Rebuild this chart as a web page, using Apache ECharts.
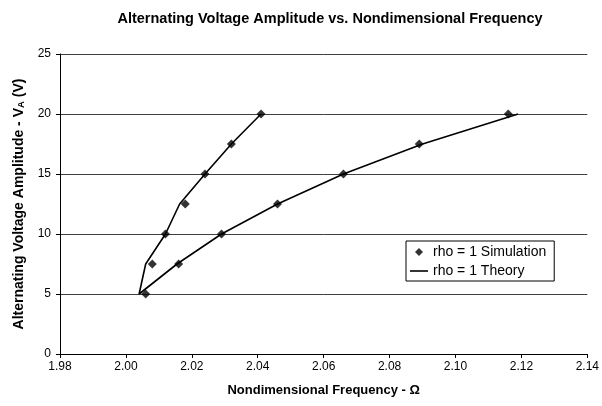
<!DOCTYPE html>
<html><head><meta charset="utf-8">
<script src="https://cdn.jsdelivr.net/npm/echarts@6/dist/echarts.min.js"></script>
<style>html,body{margin:0;padding:0;background:#fff}#c{width:602px;height:406px}</style>
</head><body><div id="c"></div>
<script>
// Simulation points [Omega, V_A]
var simOmega = [2.006, 2.008, 2.012, 2.018, 2.024, 2.032, 2.041, 2.016, 2.029, 2.046, 2.066, 2.089, 2.116];
var simVolt  = [5, 7.5, 10, 12.5, 15, 17.5, 20, 7.5, 10, 12.5, 15, 17.5, 20];
// Theory curve (one continuous line: upper-left branch down, then right branch up)
var theoryOmega = [2.041, 2.032, 2.024, 2.0163, 2.012, 2.006, 2.004, 2.0155, 2.029, 2.046, 2.066, 2.090, 2.119];
var theoryVolt  = [20, 17.5, 15, 12.5, 10, 7.5, 5, 7.5, 10, 12.5, 15, 17.5, 20];
var xTicks = [1.98, 2.00, 2.02, 2.04, 2.06, 2.08, 2.10, 2.12, 2.14];
var yTicks = [0, 5, 10, 15, 20, 25];
var seriesNames = ['rho = 1 Simulation', 'rho = 1 Theory'];

var simData = simOmega.map(function(x,i){return [x, simVolt[i]];});
var theoryData = theoryOmega.map(function(x,i){return [x, theoryVolt[i]];});
var F = 'Arial, "Liberation Sans", sans-serif';

var chart = echarts.init(document.getElementById('c'), null, {renderer:'canvas'});
chart.setOption({
  animation:false,
  backgroundColor:'#fff',
  title:{text:'Alternating Voltage Amplitude vs. Nondimensional Frequency', left:325, top:6, textAlign:'center',
    textStyle:{fontFamily:F, fontSize:14.5, fontWeight:'bold', color:'#000'}},
  grid:{left:60, right:13, top:54, bottom:52, containLabel:false},
  legend:{orient:'vertical', left:406, top:241, padding:[4,8,3,4], itemGap:5,
    backgroundColor:'#fff', borderColor:'#000', borderWidth:1,
    itemWidth:18, itemHeight:8, textStyle:{fontFamily:F, fontSize:14, color:'#000'},
    data:[
      {name:seriesNames[0], icon:'path://M0,0M18,8M9,0L13,4L9,8L5,4Z', itemStyle:{color:'#000'}},
      {name:seriesNames[1], icon:'path://M0,0M18,8M0,3.2L18,3.2L18,4.8L0,4.8Z', itemStyle:{color:'#000'}}
    ]},
  xAxis:{type:'value', min:xTicks[0], max:xTicks[xTicks.length-1], interval:0.02,
    name:'Nondimensional Frequency - Ω', nameLocation:'middle', nameGap:30,
    nameTextStyle:{fontFamily:F, fontSize:13, fontWeight:'bold', color:'#000'},
    axisLine:{show:true, lineStyle:{color:'#000', width:1}},
    axisTick:{show:true, length:4, lineStyle:{color:'#000'}},
    axisLabel:{fontFamily:F, fontSize:12, color:'#000', margin:7, formatter:function(v){return v.toFixed(2);}},
    splitLine:{show:false}},
  yAxis:{type:'value', min:yTicks[0], max:yTicks[yTicks.length-1], interval:5,
    name:'{b|Alternating Voltage Amplitude - V}{s|A}{b| (V)}', nameLocation:'middle', nameGap:33,
    nameTextStyle:{rich:{b:{fontFamily:F, fontSize:14, fontWeight:'bold', color:'#000'},
      s:{fontFamily:F, fontSize:9.5, fontWeight:'bold', color:'#000', padding:[5,0,0,0]}}},
    axisLine:{show:true, lineStyle:{color:'#000', width:1}},
    axisTick:{show:true, length:4, lineStyle:{color:'#000'}},
    axisLabel:{fontFamily:F, fontSize:12, color:'#000', margin:9},
    splitLine:{show:true, lineStyle:{color:'#404040', width:1}}},
  series:[
    {name:seriesNames[0], type:'scatter', data:simData, symbol:'diamond', symbolSize:9,
      itemStyle:{color:'#000'}, z:3},
    {name:seriesNames[1], type:'line', data:theoryData, symbol:'none', showSymbol:false,
      lineStyle:{color:'#000', width:1.6}, itemStyle:{color:'#000'}, z:2}
  ]
});
</script></body></html>
